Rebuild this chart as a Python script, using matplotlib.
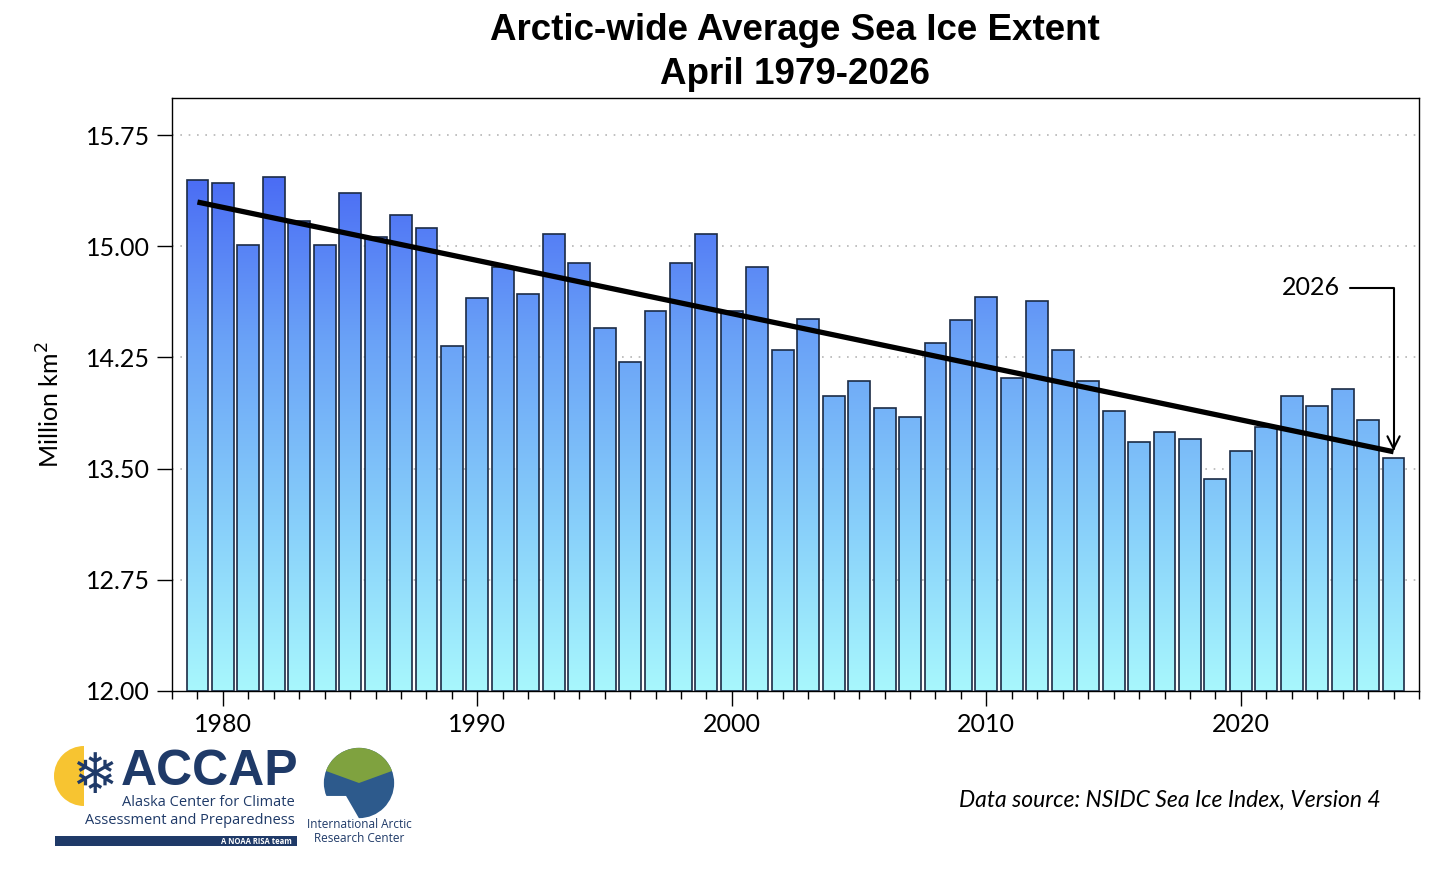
import numpy as np
import matplotlib
matplotlib.use("Agg")
import matplotlib.pyplot as plt
from matplotlib.colors import LinearSegmentedColormap
from matplotlib.path import Path
from matplotlib.patches import PathPatch, Circle, Rectangle, Wedge

# Dados: extensão média do gelo marinho em abril (milhões de km²)
anos = list(range(1979, 2027))
extensao = [15.45, 15.43, 15.01, 15.47, 15.17, 15.01, 15.36, 15.06, 15.21, 15.12,
            14.33, 14.65, 14.86, 14.68, 15.08, 14.89, 14.45, 14.22, 14.56, 14.89,
            15.08, 14.56, 14.86, 14.30, 14.51, 13.99, 14.09, 13.91, 13.85, 14.35,
            14.50, 14.66, 14.11, 14.63, 14.30, 14.09, 13.89, 13.68, 13.75, 13.70,
            13.43, 13.62, 13.78, 13.99, 13.92, 14.04, 13.83, 13.57]
yticks = [12.00, 12.75, 13.50, 14.25, 15.00, 15.75]
xticks = [1980, 1990, 2000, 2010, 2020]

fig = plt.figure(figsize=(14.56, 8.74), dpi=100)
ax = fig.add_axes([172 / 1456, 1 - 691 / 874, (1419 - 172) / 1456, (691 - 98) / 874])

ax.set_xlim(1978, 2027)
ax.set_ylim(12.0, 16.0)

largura = 0.86
# barras sem preenchimento (só contorno); o gradiente vem de uma imagem recortada
barras = ax.bar(anos, [v - 12.0 for v in extensao], bottom=12.0, width=largura,
                facecolor="none", edgecolor="#1b2b45", linewidth=1.2, zorder=3)

cmap = LinearSegmentedColormap.from_list(
    "gelo", ["#a8f7fd", "#86cdfa", "#6aa2f7", "#4868f4"])
grad = np.linspace(0, 1, 256).reshape(-1, 1)
img = ax.imshow(grad, extent=[1978, 2027, 12.0, 15.55], origin="lower",
                aspect="auto", cmap=cmap, zorder=2, interpolation="bicubic")
caminhos = [b.get_path().transformed(b.get_patch_transform()) for b in barras]
clip = PathPatch(Path.make_compound_path(*caminhos), transform=ax.transData,
                 facecolor="none", edgecolor="none")
ax.add_patch(clip)
img.set_clip_path(clip)
ax.set_xlim(1978, 2027)
ax.set_ylim(12.0, 16.0)

# linha de tendência
coef = np.polyfit(anos, extensao, 1)
xs = np.array([anos[0], anos[-1]])
ax.plot(xs, np.polyval(coef, xs), color="black", lw=3.8, zorder=4,
        solid_capstyle="butt")

# grade
for yt in yticks[1:]:
    ax.axhline(yt, color="#b5b5b5", lw=1.2, ls=(0, (1, 4)), zorder=1)

ax.set_yticks(yticks)
ax.set_yticklabels([f"{v:.2f}" for v in yticks])
ax.set_xticks(xticks)
ax.set_xticks(range(1978, 2028), minor=True)
ax.tick_params(axis="y", direction="out", length=11, width=1.0, labelsize=18, pad=5)
ax.tick_params(axis="x", which="major", direction="out", length=11, width=1.0,
               labelsize=18, pad=5)
ax.tick_params(axis="x", which="minor", direction="out", length=5.5, width=1.0)
for lab in ax.get_xticklabels() + ax.get_yticklabels():
    lab.set_fontfamily("Lato")
for s in ax.spines.values():
    s.set_linewidth(1.0)

ax.set_ylabel("Million km$^2$", fontsize=18, fontfamily="Lato")
ax.yaxis.set_label_coords(-0.087, 0.482)

# anotação de 2026
ax.annotate("2026", xy=(2026, extensao[-1] + 0.05), xytext=(2022.75, 14.72),
            fontsize=18, fontfamily="Lato", ha="center", va="center",
            arrowprops=dict(arrowstyle="->", color="black", lw=1.5,
                            connectionstyle="angle,angleA=0,angleB=90,rad=0",
                            shrinkA=5, shrinkB=0, mutation_scale=22))

# títulos
fig.text(795 / 1456, 1 - 31 / 874, "Arctic-wide Average Sea Ice Extent",
         ha="center", va="center", fontsize=26.5, fontweight="bold",
         fontfamily="Liberation Sans")
fig.text(795 / 1456, 1 - 74 / 874, "April 1979-2026",
         ha="center", va="center", fontsize=26.5, fontweight="bold",
         fontfamily="Liberation Sans")

fig.text(1381 / 1456, 1 - 800 / 874, "Data source: NSIDC Sea Ice Index, Version 4",
         ha="right", va="center", fontsize=16.5, style="italic", fontfamily="Lato")

# "logos" aproximados em texto
azul = "#1f3a68"
fig.text(121 / 1456, 1 - 772 / 874, "ACCAP", ha="left", va="center", fontsize=36,
         fontweight="bold", color=azul, fontfamily="Liberation Sans")
fig.text(208 / 1456, 1 - 803 / 874, "Alaska Center for Climate", ha="center",
         va="center", fontsize=10.5, color=azul, fontfamily="Open Sans")
fig.text(190 / 1456, 1 - 820 / 874, "Assessment and Preparedness", ha="center",
         va="center", fontsize=10.5, color=azul, fontfamily="Open Sans")
fig.patches.append(Rectangle((55 / 1456, 1 - 846 / 874), 242 / 1456, 10 / 874,
                             transform=fig.transFigure, facecolor=azul,
                             edgecolor="none"))
fig.text(292 / 1456, 1 - 841 / 874, "A NOAA RISA team", ha="right", va="center",
         fontsize=5.5, color="white", fontweight="bold", fontfamily="Open Sans")

logo1 = fig.add_axes([40 / 1456, 1 - 820 / 874, 80 / 1456, 80 / 874])
logo1.set_xlim(-1, 1)
logo1.set_ylim(-1, 1)
logo1.set_aspect("equal")
logo1.axis("off")
logo1.add_patch(Wedge((0.1, 0.1), 0.75, 90, 270, facecolor="#f7c431",
                      edgecolor="none"))
logo1.text(0.35, 0.05, "\u2744", fontsize=40, color=azul, ha="center",
           va="center", fontfamily="DejaVu Sans")

logo2 = fig.add_axes([322 / 1456, 1 - 822 / 874, 74 / 1456, 78 / 874])
logo2.set_xlim(-1, 1)
logo2.set_ylim(-1, 1)
logo2.set_aspect("equal")
logo2.axis("off")
logo2.add_patch(Circle((0, 0), 0.95, facecolor="#2d5a8c", edgecolor="none"))
logo2.add_patch(Wedge((0, 0), 0.95, 20, 160, facecolor="#7fa23f", edgecolor="none"))
logo2.add_patch(Wedge((-0.35, -0.35), 0.75, 180, 300, facecolor="white",
                      edgecolor="none"))
fig.text(359 / 1456, 1 - 825 / 874, "International Arctic", ha="center",
         va="center", fontsize=8.5, color=azul, fontfamily="Open Sans")
fig.text(359 / 1456, 1 - 838 / 874, "Research Center", ha="center",
         va="center", fontsize=8.5, color=azul, fontfamily="Open Sans")

fig.savefig("out.png", dpi=100)
